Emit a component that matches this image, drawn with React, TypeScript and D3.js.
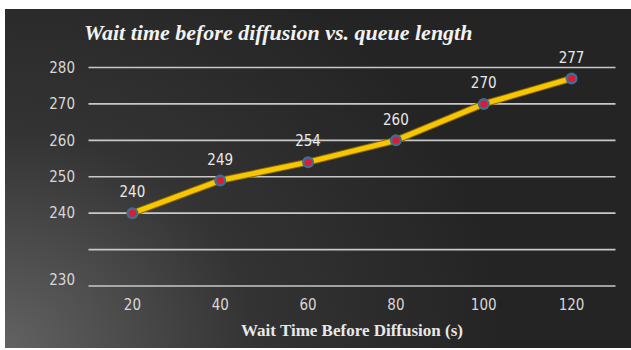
import React from "react";
import * as d3 from "d3";

const categories = ["20", "40", "60", "80", "100", "120"];
const values = [240, 249, 254, 260, 270, 277];
const yTickValues = [220, 230, 240, 250, 260, 270, 280];
const yTickLabels = ["230", "", "240", "250", "260", "270", "280"];
const title = "Wait time before diffusion vs. queue length";
const xTitle = "Wait Time Before Diffusion (s)";

export default function App() {
  const W = 631, H = 350;
  const x = d3.scaleBand<string>().domain(categories).range([88.5, 615.5]);
  const y = d3.scaleLinear().domain([220, 280]).range([286, 67.5]);
  const pts: [number, number][] = values.map((v, i) => [x(categories[i])! + x.bandwidth() / 2, y(v)]);
  const line = d3.line()(pts) || "";
  const tickFont = "'DejaVu Sans Condensed', 'DejaVu Sans', sans-serif";
  return (
    <svg width={W} height={H} style={{ position: "absolute", left: 0, top: 0 }}>
      <defs>
        <radialGradient id="bg" cx="0" cy="1" r="0.8" gradientUnits="objectBoundingBox" gradientTransform="scale(1,1.6) translate(0,-0.375)">
          <stop offset="0" stopColor="#626262" />
          <stop offset="0.5" stopColor="#333333" />
          <stop offset="1" stopColor="#242424" />
        </radialGradient>
      </defs>
      <rect x={0} y={0} width={W} height={H} fill="#ffffff" />
      <rect x={5} y={9} width={W - 5} height={339} fill="url(#bg)" />
      <text x={84} y={40} fill="#f2f2f2" fontFamily="'Liberation Serif', serif" fontStyle="italic" fontWeight="bold" fontSize={22}>
        {title}
      </text>
      {yTickValues.map((t, i) => (
        <g key={t}>
          <line x1={88.5} x2={615.5} y1={y(t)} y2={y(t)} stroke="#c8c8c8" strokeWidth={1.6} />
          <text x={75} y={y(t) - (t === 220 ? 6.5 : 0)} dy="0.35em" textAnchor="end" fill="#d8d8d8" fontFamily={tickFont} fontSize={15}>
            {yTickLabels[i]}
          </text>
        </g>
      ))}
      {categories.map((c) => (
        <text key={c} x={x(c)! + x.bandwidth() / 2} y={305} dy="0.35em" textAnchor="middle" fill="#d8d8d8" fontFamily={tickFont} fontSize={15}>
          {c}
        </text>
      ))}
      <text x={352} y={330} dy="0.35em" textAnchor="middle" fill="#e8e8e8" fontFamily="'Liberation Serif', serif" fontWeight="bold" fontSize={17}>
        {xTitle}
      </text>
      <path d={line} fill="none" stroke="#8a6a00" strokeWidth={7} strokeLinecap="round" />
      <path d={line} fill="none" stroke="#f7c600" strokeWidth={5} strokeLinecap="round" />
      {pts.map(([px, py], i) => (
        <g key={i}>
          <circle cx={px} cy={py} r={6} fill="#3f6f8c" />
          <circle cx={px} cy={py} r={3.5} fill="#e0193a" />
          <text x={px} y={py - 21} dy="0.35em" textAnchor="middle" fill="#e8e8e8" fontFamily={tickFont} fontSize={15}>
            {values[i]}
          </text>
        </g>
      ))}
    </svg>
  );
}
